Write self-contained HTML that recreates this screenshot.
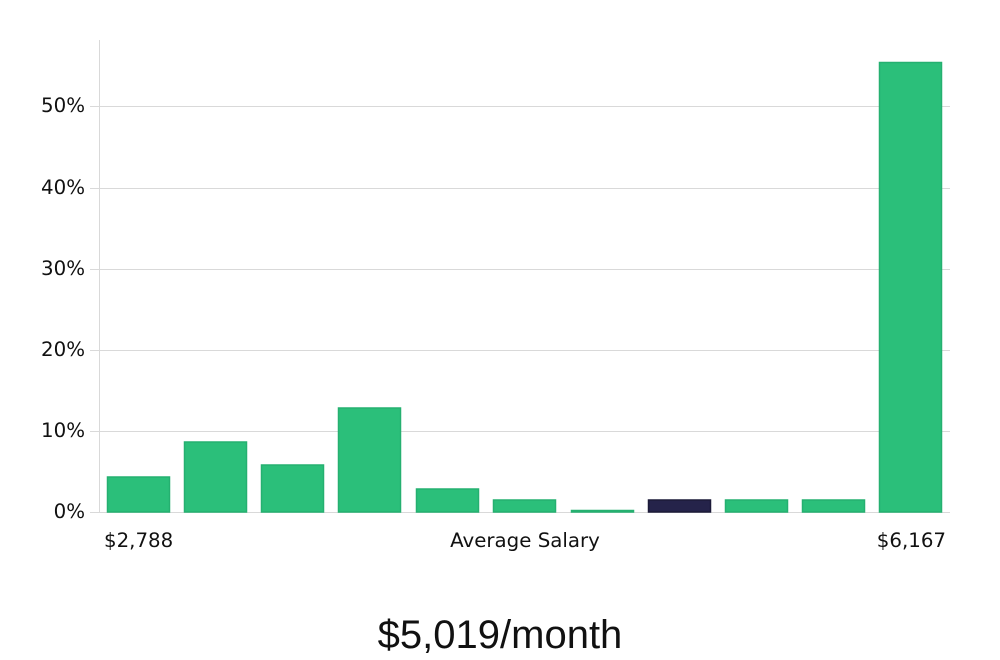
<!DOCTYPE html>
<html><head><meta charset="utf-8"><style>
html,body{margin:0;padding:0;background:#fff;width:1000px;height:660px;overflow:hidden}
svg text{font-family:"DejaVu Sans","Liberation Sans",sans-serif;fill:#111}
</style></head><body>
<svg width="1000" height="660" xmlns="http://www.w3.org/2000/svg">
<g stroke="#d9d9d9" stroke-width="1">
<line x1="99.5" y1="40" x2="99.5" y2="512"/>
<line x1="90" y1="512.5" x2="950" y2="512.5"/>
<line x1="90" y1="431.5" x2="950" y2="431.5"/>
<line x1="90" y1="350.5" x2="950" y2="350.5"/>
<line x1="90" y1="269.5" x2="950" y2="269.5"/>
<line x1="90" y1="188.5" x2="950" y2="188.5"/>
<line x1="90" y1="106.5" x2="950" y2="106.5"/>
</g>
<g font-size="19.8" text-anchor="end">
<text x="85" y="518">0%</text>
<text x="85" y="437">10%</text>
<text x="85" y="356">20%</text>
<text x="85" y="275">30%</text>
<text x="85" y="194">40%</text>
<text x="85" y="112">50%</text>
</g>
<g fill="#2bbf7a" stroke="#25b070" stroke-width="1.5">
<rect x="107.5" y="477" width="62" height="35"/>
<rect x="184.5" y="442" width="62" height="70"/>
<rect x="261.5" y="465" width="62" height="47"/>
<rect x="338.5" y="408" width="62" height="104"/>
<rect x="416.5" y="489" width="62" height="23"/>
<rect x="493.5" y="500" width="62" height="12"/>
<rect x="571.5" y="510.5" width="62" height="1.5"/>
<rect x="725.5" y="500" width="62" height="12"/>
<rect x="802.5" y="500" width="62" height="12"/>
<rect x="879.5" y="62.5" width="62" height="449.5"/>
</g>
<rect x="648.5" y="500" width="62" height="12" fill="#25234a" stroke="#1c1a38" stroke-width="1.5"/>
<g font-size="19.8">
<text x="104" y="547">$2,788</text>
<text x="525" y="547" text-anchor="middle">Average Salary</text>
<text x="946" y="547" text-anchor="end">$6,167</text>
</g>
<text x="500" y="648" font-size="40" text-anchor="middle" style="font-family:'Liberation Sans',sans-serif" fill="#222">$5,019/month</text>
</svg>
</body></html>
